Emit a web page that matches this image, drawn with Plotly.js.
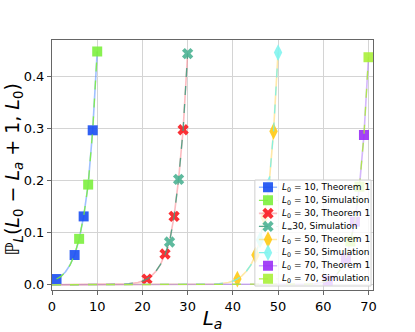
<!DOCTYPE html>
<html>
<head>
<meta charset="utf-8">
<script src="https://cdn.plot.ly/plotly-3.0.1.min.js"></script>
<style>body{margin:0;background:#fff;}</style>
</head>
<body>
<div id="chart" style="width:415px;height:332px;"></div>
<script>
// L_a values and probabilities for each L0
var la10 = [1, 2, 3, 4, 5, 6, 7, 8, 9, 10];
var p10thm = [0.011, 0.016, 0.025, 0.038, 0.057, 0.087, 0.131, 0.192, 0.296, 0.447];
var p10sim = [0.011, 0.016, 0.025, 0.038, 0.058, 0.088, 0.131, 0.192, 0.296, 0.447];

var la30 = [0, 10, 12, 14, 15, 16, 17, 18, 19, 20, 21, 22, 23, 24, 25, 26, 27, 28, 29, 30];
var p30thm = [0, 0.0001, 0.0002, 0.0005, 0.0008, 0.0012, 0.002, 0.003, 0.0045, 0.007, 0.011, 0.017, 0.026, 0.039, 0.059, 0.083, 0.131, 0.202, 0.297, 0.443];
var p30sim = [0, 0.0001, 0.0002, 0.0005, 0.0008, 0.0012, 0.002, 0.003, 0.0045, 0.007, 0.011, 0.017, 0.026, 0.039, 0.058, 0.082, 0.131, 0.202, 0.297, 0.443];

var la50 = [0, 30, 32, 34, 35, 36, 37, 38, 39, 40, 41, 42, 43, 44, 45, 46, 47, 48, 49, 50];
var p50thm = [0, 0.0001, 0.0002, 0.0005, 0.0008, 0.0012, 0.002, 0.003, 0.0045, 0.007, 0.011, 0.017, 0.026, 0.038, 0.057, 0.086, 0.130, 0.191, 0.294, 0.445];
var p50sim = [0, 0.0001, 0.0002, 0.0005, 0.0008, 0.0012, 0.002, 0.003, 0.0045, 0.007, 0.011, 0.017, 0.026, 0.038, 0.057, 0.086, 0.130, 0.191, 0.294, 0.445];

var la70 = [0, 50, 52, 54, 55, 56, 57, 58, 59, 60, 61, 62, 63, 64, 65, 66, 67, 68, 69, 70];
var p70thm = [0, 0.0001, 0.0002, 0.0004, 0.0006, 0.0009, 0.0014, 0.002, 0.0032, 0.005, 0.008, 0.012, 0.020, 0.032, 0.051, 0.083, 0.121, 0.188, 0.287, 0.436];
var p70sim = [0, 0.0001, 0.0002, 0.0004, 0.0006, 0.0009, 0.0014, 0.002, 0.0032, 0.005, 0.008, 0.012, 0.020, 0.032, 0.051, 0.083, 0.121, 0.188, 0.287, 0.436];

// where the markers sit
var thmMarks = {10: [1, 5, 7, 9], 30: [21, 25, 27, 29], 50: [41, 45, 47, 49], 70: [61, 65, 67, 69]};
var simMarks = {10: [6, 8, 10], 30: [26, 28, 30], 50: [46, 48, 50], 70: [66, 68, 70]};

var names = [
  '<i>L</i><sub>0</sub> = 10, Theorem 1',
  '<i>L</i><sub>0</sub> = 10, Simulation',
  '<i>L</i><sub>0</sub> = 30, Theorem 1',
  '<i>L</i><sub>=</sub>30, Simulation',
  '<i>L</i><sub>0</sub> = 50, Theorem 1',
  '<i>L</i><sub>0</sub> = 50, Simulation',
  '<i>L</i><sub>0</sub> = 70, Theorem 1',
  '<i>L</i><sub>0</sub> = 70, Simulation'
];

function pick(xs, marks) {
  return marks.map(function (m) { return xs.indexOf(m); });
}

function series(name, xs, ys, marks, color, lineColor, dash, symbol, size) {
  return {
    x: xs,
    y: ys,
    name: name,
    type: 'scatter',
    mode: 'lines+markers',
    line: {color: lineColor, width: dash ? 1.3 : 1.6, dash: dash ? 'dash' : 'solid'},
    marker: {color: color, symbol: symbol, size: size, opacity: 0.9, line: {width: 0}},
    selectedpoints: pick(xs, marks),
    selected: {marker: {opacity: 0.9}},
    unselected: {marker: {opacity: 0}},
    showlegend: false,
    hoverinfo: 'none'
  };
}

var data = [
  series(names[0], la10, p10thm, thmMarks[10], '#1a4ff2', 'rgba(80,140,255,0.55)', false, 'square', 10),
  series(names[1], la10, p10sim, simMarks[10], '#7cf03e', 'rgba(124,240,62,0.9)', true, 'square', 10),
  series(names[2], la30, p30thm, thmMarks[30], '#fa1a1f', 'rgba(250,120,130,0.5)', false, 'x', 10),
  series(names[3], la30, p30sim, simMarks[30], '#4cb393', 'rgba(70,160,130,0.9)', true, 'x', 10),
  series(names[4], la50, p50thm, thmMarks[50], '#ffca14', 'rgba(255,210,80,0.5)', false, 'diamond-tall', 12),
  series(names[5], la50, p50sim, simMarks[50], '#82f4f0', 'rgba(120,240,230,0.9)', true, 'diamond-tall', 12),
  series(names[6], la70, p70thm, thmMarks[70], '#9a2ef6', 'rgba(170,110,250,0.5)', false, 'square', 10),
  series(names[7], la70, p70sim, simMarks[70], '#aaf03a', 'rgba(170,235,60,0.9)', true, 'square', 10)
];

var font = 'DejaVu Sans, sans-serif';

// compact legend as an inset subplot (Plotly's legend rows are too tall here);
// the inset's background is the semi-transparent legend box
var legW = 117, rows = names.length;
var annotations = [];
names.forEach(function (name, i) {
  var s = data[i];
  data.push({
    x: [3, 12, 21], y: [i + 0.5, i + 0.5, i + 0.5],
    xaxis: 'x2', yaxis: 'y2', type: 'scatter', mode: 'lines+markers',
    line: {color: s.line.color, width: s.line.width, dash: s.line.dash},
    marker: s.marker,
    selectedpoints: [1],
    selected: s.selected, unselected: s.unselected,
    showlegend: false, hoverinfo: 'none'
  });
  annotations.push({
    x: 24, y: i + 0.5, xref: 'x2', yref: 'y2',
    text: name, showarrow: false, xanchor: 'left', yanchor: 'middle',
    font: {size: 9, family: font, color: '#000'}
  });
});

annotations.push({
  xref: 'paper', yref: 'paper', x: -0.122, y: 0.484,
  xanchor: 'center', yanchor: 'middle', textangle: -90, showarrow: false,
  text: 'ℙ<sub><i>L</i></sub>(<i>L</i><sub>0</sub> − <i>L<sub>a</sub></i> + 1, <i>L</i><sub>0</sub>)',
  font: {size: 19, family: font, color: '#000'}
});

var layout = {
  width: 415,
  height: 332,
  margin: {l: 52, r: 42, t: 40, b: 42},
  paper_bgcolor: '#fff',
  plot_bgcolor: 'rgba(255,255,255,0.8)',
  font: {family: font, color: '#000'},
  showlegend: false,
  annotations: annotations,
  shapes: [{
    type: 'rect', xref: 'paper', yref: 'paper', layer: 'above',
    x0: 0.632, x1: 0.994, y0: 0.016, y1: 0.44,
    fillcolor: 'rgba(0,0,0,0)',
    line: {color: '#cfcfcf', width: 1}
  }],
  xaxis: {
    range: [0, 71],
    tickvals: [0, 10, 20, 30, 40, 50, 60, 70],
    showline: true, mirror: true, linecolor: '#666', linewidth: 1,
    ticks: 'outside', ticklen: 4, tickcolor: '#666',
    showgrid: true, gridcolor: '#d4d4d4', zeroline: false,
    tickfont: {size: 13, family: font},
    title: {text: '<i>L<sub>a</sub></i>', font: {size: 20, family: font}, standoff: 6}
  },
  yaxis: {
    range: [-0.01, 0.469],
    tickvals: [0, 0.1, 0.2, 0.3, 0.4],
    tickformat: '.1f',
    showline: true, mirror: true, linecolor: '#666', linewidth: 1,
    ticks: 'outside', ticklen: 4, tickcolor: '#666',
    showgrid: true, gridcolor: '#d4d4d4', zeroline: false,
    tickfont: {size: 13, family: font}
  },
  xaxis2: {
    domain: [0.632, 0.994], range: [-1, legW - 3], anchor: 'y2',
    visible: false, fixedrange: true
  },
  yaxis2: {
    domain: [0.016, 0.44], range: [rows + 0.05, -0.05], anchor: 'x2',
    visible: false, fixedrange: true
  }
};

Plotly.newPlot('chart', data, layout, {staticPlot: true});
</script>
</body>
</html>
